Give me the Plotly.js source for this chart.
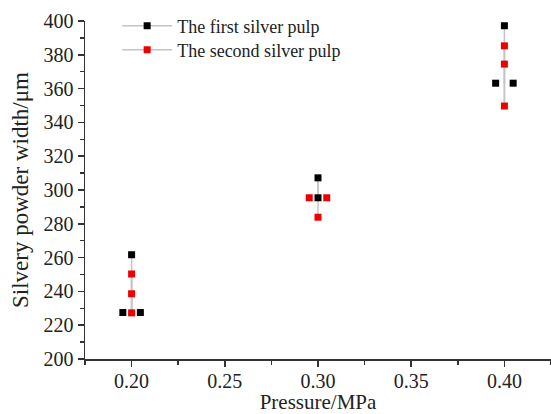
<!DOCTYPE html>
<html>
<head>
<meta charset="utf-8">
<script src="https://cdn.plot.ly/plotly-3.0.1.min.js"></script>
<style>html,body{margin:0;padding:0;background:#fff;}#chart{width:551px;height:414px;}</style>
</head>
<body>
<div id="chart"></div>
<script>
// ---- data ----
const pressures = [0.20, 0.30, 0.40];
// values drawn on the centre line of each pressure
const firstSingle  = [[261.7], [307.2, 295.4], [397.2]];
const secondSingle = [[250.3, 238.6, 227.3], [283.9], [385.3, 374.5, 349.7]];
// repeated values drawn side by side
const firstPaired  = [[227.5], [], [363.2]];
const secondPaired = [[], [295.4], []];
const seriesNames = ['The first silver pulp', 'The second silver pulp'];
const xTickVals = [0.20, 0.25, 0.30, 0.35, 0.40];
const xTickText = ['0.20', '0.25', '0.30', '0.35', '0.40'];
const yTickVals = [200, 220, 240, 260, 280, 300, 320, 340, 360, 380, 400];

// ---- styles ----
const colors = ['#000000', '#ee0000'];
const lineGray = '#c4c4c4';
const dx = 0.0047;
const font = 'Liberation Serif';

function linePath(single, paired) {
  const x = [], y = [];
  pressures.forEach((p, i) => {
    const vals = single[i].concat(paired[i]);
    if (!vals.length) return;
    x.push(p, p, null);
    y.push(Math.max(...vals), Math.min(...vals), null);
  });
  return {x, y};
}
function singlePath(single) {
  const x = [], y = [];
  pressures.forEach((p, i) => {
    single[i].forEach(v => { x.push(p); y.push(v); });
    x.push(null); y.push(null);
  });
  return {x, y};
}
function pairedPath(paired) {
  const x = [], y = [];
  pressures.forEach((p, i) => {
    paired[i].forEach(v => { x.push(p - dx, p + dx); y.push(v, v); });
  });
  return {x, y};
}

const singles = [firstSingle, secondSingle];
const paireds = [firstPaired, secondPaired];
const legendIds = ['legend', 'legend2'];
const traces = [];
[0, 1].forEach(k => {
  const lp = linePath(singles[k], paireds[k]);
  traces.push({x: lp.x, y: lp.y, mode: 'lines', line: {color: lineGray, width: 1.5},
    showlegend: false, hoverinfo: 'skip', legendgroup: 'g' + k});
});
[0, 1].forEach(k => {
  const sp = singlePath(singles[k]);
  traces.push({x: sp.x, y: sp.y, mode: 'lines+markers', name: seriesNames[k],
    legendgroup: 'g' + k, legend: legendIds[k], connectgaps: false,
    line: {color: lineGray, width: 1.5},
    marker: {symbol: 'square', size: 7, color: colors[k]}});
  const pp = pairedPath(paireds[k]);
  traces.push({x: pp.x, y: pp.y, mode: 'markers', showlegend: false, legendgroup: 'g' + k,
    marker: {symbol: 'square', size: 7, color: colors[k]}});
});

const legendBase = {xanchor: 'left', yanchor: 'middle', bgcolor: 'rgba(0,0,0,0)',
  font: {family: font, size: 18, color: '#222'}, itemwidth: 50, borderwidth: 0};

const layout = {
  width: 551, height: 414,
  margin: {l: 85, r: 0, t: 21, b: 55},
  paper_bgcolor: '#ffffff', plot_bgcolor: '#ffffff',
  font: {family: font, color: '#222', size: 20},
  showlegend: true,
  legend: Object.assign({x: 0.069, y: 0.985}, legendBase),
  legend2: Object.assign({x: 0.069, y: 0.914}, legendBase),
  xaxis: {
    range: [0.175, 0.425], tickvals: xTickVals, ticktext: xTickText,
    ticks: 'outside', ticklen: 6, tickwidth: 1.5, tickcolor: '#333',
    ticklabelstandoff: -3,
    showline: true, linecolor: '#333', linewidth: 1.5, showgrid: false, zeroline: false,
    minor: {dtick: 0.025, tick0: 0.175, ticks: 'outside', ticklen: 4, tickwidth: 1.5, tickcolor: '#333', showgrid: false},
    tickfont: {family: font, size: 20, color: '#222'},
    title: {text: 'Pressure/MPa', font: {family: font, size: 21, color: '#222'}, standoff: 4}
  },
  yaxis: {
    range: [200, 400], tickvals: yTickVals,
    ticks: 'outside', ticklen: 6, tickwidth: 1.5, tickcolor: '#333',
    showline: true, linecolor: '#333', linewidth: 1.5, showgrid: false, zeroline: false,
    minor: {dtick: 10, tick0: 200, ticks: 'outside', ticklen: 4, tickwidth: 1.5, tickcolor: '#333', showgrid: false},
    tickfont: {family: font, size: 20, color: '#222'},
    title: {text: 'Silvery powder width/μm', font: {family: font, size: 23, color: '#222'}, standoff: 8}
  }
};

Plotly.newPlot('chart', traces, layout, {displayModeBar: false, staticPlot: true});
</script>
</body>
</html>
